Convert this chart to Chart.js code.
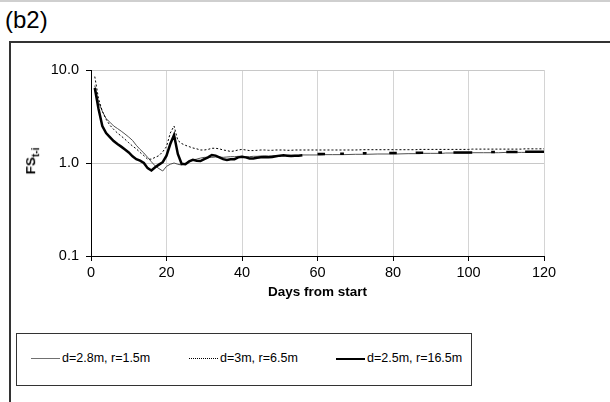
<!DOCTYPE html>
<html lang="en">
<head>
    <meta charset="UTF-8">
    <title>FS t-i vs days</title>
    <script src="https://cdn.jsdelivr.net/npm/chart.js"></script>
    <style>
        body {
            margin: 0;
            width: 610px;
            height: 402px;
            overflow: hidden;
            background: #fff;
            font-family: "Liberation Sans", Arial, sans-serif;
            position: relative;
        }
        .topline {
            position: absolute; left: 0; top: 0; width: 610px; height: 0;
            border-top: 2px solid #cfcfcf;
        }
        .panel-label {
            position: absolute; left: 5px; top: 6px;
            font-size: 24px; color: #000;
        }
        .frame {
            position: absolute; left: 9px; top: 41px; width: 620px; height: 400px;
            border-left: 2px solid #333; border-top: 2px solid #333;
        }
        .chart-box {
            position: absolute; left: 0; top: 0; width: 610px; height: 300px;
        }
        .ytitle {
            position: absolute; left: 32px; top: 161px;
            transform: translate(-50%, -50%) rotate(-90deg);
            font-size: 13.5px; font-weight: bold; white-space: nowrap;
        }
        .ytitle sub { font-size: 10px; }
        .legend {
            position: absolute; left: 16px; top: 333px; width: 454px; height: 51px;
            border: 1px solid #333; font-size: 12.5px;
        }
        .legend .item { position: absolute; top: 17px; white-space: nowrap; }
        .legend .swatch { display: inline-block; vertical-align: middle; width: 29px; height: 0; margin-right: 2px; }
    </style>
</head>
<body>
    <div class="topline"></div>
    <div class="panel-label">(b2)</div>
    <div class="frame"></div>
    <div class="chart-box"><canvas id="fsChart"></canvas></div>
    <div class="ytitle">FS<sub>t-i</sub></div>
    <div class="legend">
        <div class="item" style="left: 14px;"><span class="swatch" style="border-top: 1px solid #707070;"></span>d=2.8m, r=1.5m</div>
        <div class="item" style="left: 172px;"><span class="swatch" style="border-top: 1px dotted #000;"></span>d=3m, r=6.5m</div>
        <div class="item" style="left: 319px;"><span class="swatch" style="border-top: 2.5px solid #000;"></span>d=2.5m, r=16.5m</div>
    </div>

    <script>
        // measurement days
        var days = [1,2,3,4,5,6,7,8,9,10,11,12,13,14,15,16,17,18,19,20,
            21,22,23,24,25,26,27,28,29,30,31,32,33,34,35,36,37,38,39,40,
            41,42,43,44,45,46,47,48,49,50,51,52,53,54,55,56,
            58,60,61,62,64,66,67,70,72,73,76,79,80,81,84,86,87,88,90,92,
            93,94,96,98,100,101,104,106,107,108,110,112,113,114,115,116,118,120];

        // d=2.8m, r=1.5m
        var fsSmall = [6.8,4.5,3.6,3.0,2.75,2.5,2.35,2.2,2.05,1.9,1.75,1.55,1.4,1.28,1.15,1.03,0.93,0.87,0.82,0.92,
            0.97,1.0,0.97,0.95,0.99,1.04,1.08,1.1,1.13,1.15,1.15,1.15,1.16,1.16,1.15,1.16,1.17,1.17,1.18,1.18,
            1.17,1.17,1.18,1.18,1.19,1.19,1.19,1.2,1.2,1.2,1.2,1.21,1.21,1.21,1.21,1.22,
            1.22,1.22,1.22,1.23,1.23,1.23,1.23,1.24,1.24,1.24,1.25,1.25,1.25,1.25,1.26,1.26,1.26,1.27,1.27,1.27,
            1.27,1.28,1.28,1.28,1.28,1.29,1.29,1.29,1.29,1.29,1.3,1.3,1.3,1.3,1.3,1.3,1.31,1.31];

        // d=3m, r=6.5m
        var fsMid = [8.5,4.9,3.6,2.95,2.55,2.3,2.1,1.95,1.8,1.65,1.52,1.42,1.3,1.2,1.1,1.1,1.15,1.2,1.32,1.5,
            2.1,2.5,1.75,1.62,1.55,1.5,1.45,1.42,1.38,1.38,1.4,1.44,1.44,1.42,1.38,1.36,1.33,1.35,1.38,1.4,
            1.38,1.36,1.36,1.37,1.38,1.38,1.37,1.37,1.38,1.38,1.38,1.37,1.37,1.38,1.38,1.38,
            1.38,1.38,1.38,1.38,1.38,1.38,1.38,1.38,1.39,1.39,1.39,1.39,1.39,1.39,1.39,1.39,1.4,1.4,1.4,1.4,
            1.4,1.4,1.4,1.4,1.4,1.41,1.41,1.41,1.41,1.41,1.41,1.41,1.41,1.41,1.42,1.42,1.42,1.42];

        // d=2.5m, r=16.5m (gaps where no reading)
        var fsLarge = [6.4,3.8,2.5,2.1,1.9,1.72,1.6,1.5,1.4,1.3,1.18,1.1,1.06,1.0,0.88,0.83,0.9,0.96,1.02,1.2,
            1.6,2.0,1.25,0.98,0.97,1.04,1.08,1.06,1.05,1.1,1.15,1.22,1.2,1.15,1.1,1.08,1.1,1.1,1.15,1.17,
            1.15,1.12,1.12,1.14,1.15,1.16,1.15,1.16,1.18,1.2,1.21,1.2,1.19,1.2,1.2,1.21,
            null,1.25,1.25,1.25,null,1.26,1.26,null,1.27,1.27,null,1.28,1.28,1.28,null,1.29,1.29,1.29,null,1.3,
            1.3,null,1.3,1.3,1.3,1.3,null,1.31,1.31,null,1.31,1.31,1.31,null,1.32,1.32,1.32,1.32];

        var yTicks = [0.1, 1, 10];

        function pts(vals) {
            return days.map(function (d, i) { return { x: d, y: vals[i] }; });
        }

        var font = { family: "'Liberation Sans', Arial, sans-serif", size: 14.5 };

        new Chart(document.getElementById('fsChart'), {
            type: 'line',
            data: {
                datasets: [
                    { label: 'd=2.5m, r=16.5m', data: pts(fsLarge), borderColor: '#000', borderWidth: 2.5, order: 0 },
                    { label: 'd=3m, r=6.5m', data: pts(fsMid), borderColor: '#000', borderWidth: 1, borderDash: [2, 2], order: 1 },
                    { label: 'd=2.8m, r=1.5m', data: pts(fsSmall), borderColor: '#505050', borderWidth: 1, order: 2 }
                ]
            },
            options: {
                responsive: true,
                maintainAspectRatio: false,
                animation: false,
                spanGaps: false,
                elements: { point: { radius: 0 }, line: { tension: 0, fill: false } },
                layout: { padding: { top: 70, right: 66, left: 0, bottom: 0 } },
                plugins: { legend: { display: false }, tooltip: { enabled: false } },
                scales: {
                    x: {
                        type: 'linear', min: 0, max: 120,
                        ticks: { stepSize: 20, color: '#000', font: font, padding: 3, maxRotation: 0 },
                        grid: {
                            color: function (c) { return c.tick && c.tick.value === 0 ? 'transparent' : '#d4d4d4'; },
                            tickColor: '#000', tickLength: 5
                        },
                        border: { color: '#000', width: 1 },
                        title: { display: true, text: 'Days from start', color: '#000',
                            font: { family: font.family, size: 13.5, weight: 'bold' }, padding: { top: 4, bottom: 0 } },
                        afterFit: function (s) { s.height = 44; }
                    },
                    y: {
                        type: 'logarithmic', min: 0.1, max: 10,
                        afterBuildTicks: function (s) { s.ticks = yTicks.map(function (v) { return { value: v }; }); },
                        ticks: { color: '#000', font: font, padding: 7,
                            callback: function (v) { return Number(v).toFixed(1); } },
                        grid: {
                            color: function (c) { return c.tick && c.tick.value === 0.1 ? 'transparent' : '#c8c8c8'; },
                            tickColor: '#000', tickLength: 5
                        },
                        border: { color: '#000', width: 1 },
                        afterFit: function (s) { s.width = 91; }
                    }
                }
            }
        });
    </script>
</body>
</html>
